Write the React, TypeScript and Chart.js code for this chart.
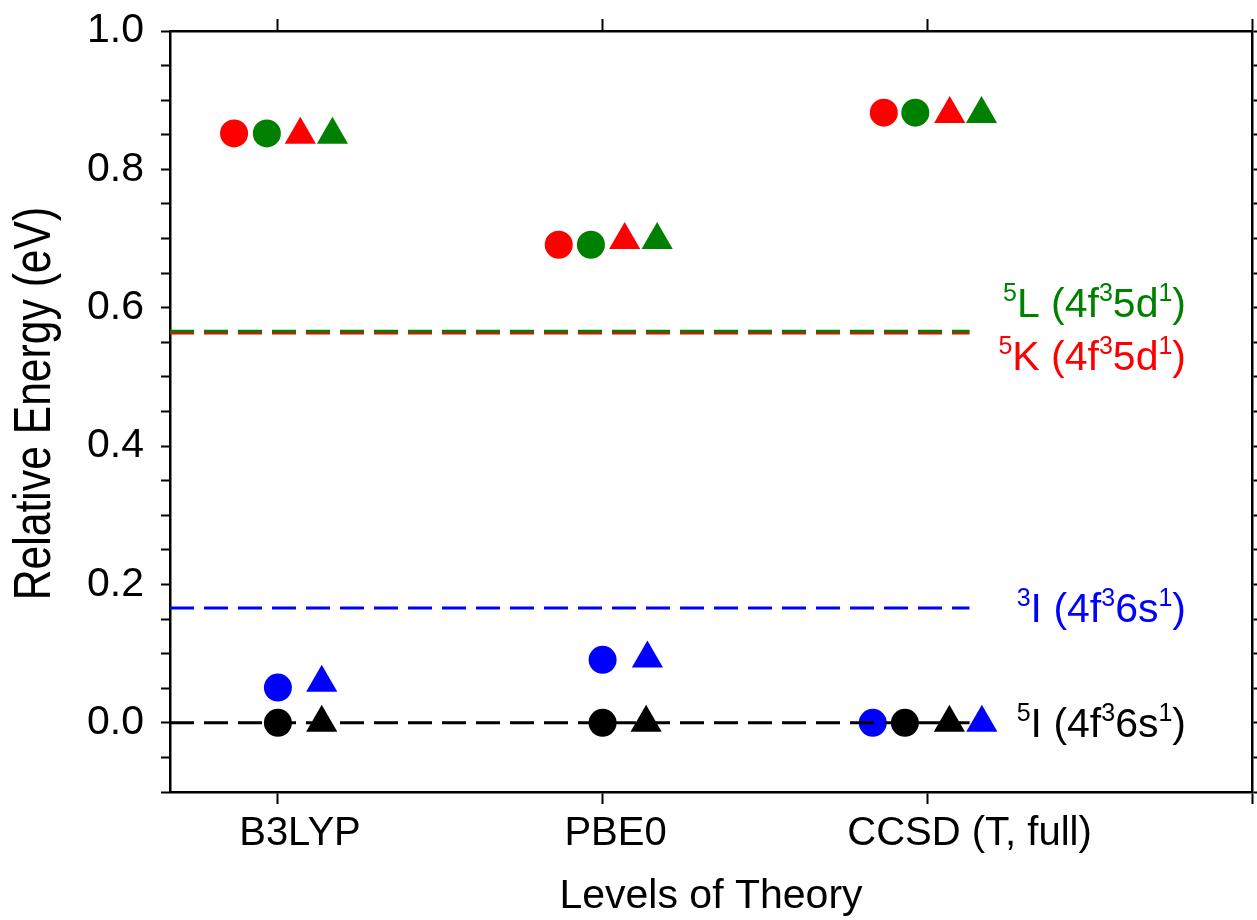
import { useEffect, useRef } from 'react';
import { Chart, registerables } from 'chart.js';

Chart.register(...registerables);

// ---- categories & axes ----
const categories = ['B3LYP', 'PBE0', 'CCSD (T, full)'];
const categoryPositions = [1, 2, 3];
const categoryLabelPositions = [1.068, 2.04, 3.13];
const xTicks = [1, 2, 3, 4];
const xMin = 0.6677;
const xMax = 4;
const yMin = -0.1;
const yMax = 1.0;
const yStep = 0.05;
const yLabelValues = [0, 0.2, 0.4, 0.6, 0.8, 1.0];
const yTickLabels = ['0.0', '0.2', '0.4', '0.6', '0.8', '1.0'];
const xTitle = 'Levels of Theory';
const yTitle = 'Relative Energy (eV)';

// ---- marker series (relative energy, eV) ----
const k5Circle = [0.852, 0.691, 0.882];
const l5Circle = [0.852, 0.691, 0.882];
const k5Triangle = [0.85, 0.698, 0.88];
const l5Triangle = [0.85, 0.698, 0.88];
const i3Circle = [0.051, 0.091, 0.0];
const i5Circle = [0.0, 0.0, 0.0];
const i5Triangle = [0.0, 0.0, 0.0];
const i3Triangle = [0.058, 0.093, 0.0];

// horizontal dodge of each series around its category (x units)
const k5CircleDodge = [-0.135, -0.135, -0.134];
const l5CircleDodge = [-0.034, -0.036, -0.037];
const k5TriangleDodge = [0.069, 0.068, 0.069];
const l5TriangleDodge = [0.168, 0.168, 0.167];
const i3CircleDodge = [0, 0, -0.168];
const i5CircleDodge = [0, 0, -0.069];
const i5TriangleDodge = [0.135, 0.134, 0.068];
const i3TriangleDodge = [0.135, 0.138, 0.168];

// ---- reference state levels (dashed lines) ----
const stateNames = ['5L', '5K', '3I', '5I'];
const stateEnergies = [0.566, 0.5635, 0.166, 0.0];
const stateLineEnd = 3.13;
const stateLabelParts: [string, boolean][][] = [
  [['5', true], ['L (4f', false], ['3', true], ['5d', false], ['1', true], [')', false]],
  [['5', true], ['K (4f', false], ['3', true], ['5d', false], ['1', true], [')', false]],
  [['3', true], ['I (4f', false], ['3', true], ['6s', false], ['1', true], [')', false]],
  [['5', true], ['I (4f', false], ['3', true], ['6s', false], ['1', true], [')', false]],
];

// ---- styles ----
const RED = '#ff0000';
const GREEN = '#008000';
const BLUE = '#0000ff';
const BLACK = '#000000';
const stateColors = [GREEN, RED, BLUE, BLACK];
const stateLabelDy = [-14, 37, 14, 14];
const FONT = "'Liberation Sans', Arial, sans-serif";

const markerSeries = [
  { name: '5K circle', values: k5Circle, dodge: k5CircleDodge, color: RED, style: 'circle', r: 14 },
  { name: '5L circle', values: l5Circle, dodge: l5CircleDodge, color: GREEN, style: 'circle', r: 14 },
  { name: '5K triangle', values: k5Triangle, dodge: k5TriangleDodge, color: RED, style: 'triangle', r: 18 },
  { name: '5L triangle', values: l5Triangle, dodge: l5TriangleDodge, color: GREEN, style: 'triangle', r: 18 },
  { name: '3I circle', values: i3Circle, dodge: i3CircleDodge, color: BLUE, style: 'circle', r: 14 },
  { name: '5I circle', values: i5Circle, dodge: i5CircleDodge, color: BLACK, style: 'circle', r: 14 },
  { name: '5I triangle', values: i5Triangle, dodge: i5TriangleDodge, color: BLACK, style: 'triangle', r: 18 },
  { name: '3I triangle', values: i3Triangle, dodge: i3TriangleDodge, color: BLUE, style: 'triangle', r: 18 },
];

const stateLabelPlugin = {
  id: 'stateLabels',
  afterDraw(chart: any) {
    const ctx = chart.ctx as CanvasRenderingContext2D;
    const ys = chart.scales.y;
    const area = chart.chartArea;
    const right = area.right - 66;
    const mainSize = 41;
    const supSize = 25;
    const supRaise = 16;
    ctx.save();
    ctx.textAlign = 'left';
    ctx.textBaseline = 'alphabetic';
    stateLabelParts.forEach((parts, i) => {
      const base = ys.getPixelForValue(stateEnergies[i]) + stateLabelDy[i];
      const widths = parts.map(([t, sup]) => {
        ctx.font = `${sup ? supSize : mainSize}px ${FONT}`;
        return ctx.measureText(t).width;
      });
      const total = widths.reduce((a, b) => a + b, 0);
      let x = right - total;
      ctx.fillStyle = stateColors[i];
      parts.forEach(([t, sup], j) => {
        ctx.font = `${sup ? supSize : mainSize}px ${FONT}`;
        ctx.fillText(t, x, sup ? base - supRaise : base);
        x += widths[j];
      });
    });
    // condensed vertical axis title
    ctx.translate(36, (area.top + area.bottom) / 2 - 8);
    ctx.rotate(-Math.PI / 2);
    ctx.scale(0.82, 1);
    ctx.font = `52px ${FONT}`;
    ctx.fillStyle = BLACK;
    ctx.textAlign = 'center';
    ctx.textBaseline = 'middle';
    ctx.fillText(yTitle, 0, 0);
    ctx.restore();
  },
};

const fixBox = (w: number | null, h: number | null) => (s: any) => {
  if (w !== null) s.width = w;
  if (h !== null) s.height = h;
  s.paddingLeft = 0;
  s.paddingRight = 0;
  s.paddingTop = 0;
  s.paddingBottom = 0;
};

export default function App() {
  const ref = useRef<HTMLCanvasElement | null>(null);

  useEffect(() => {
    if (!ref.current) return;

    const markerDatasets = markerSeries.map((s) => ({
      label: s.name,
      data: categoryPositions.map((c, i) => ({ x: c + s.dodge[i], y: s.values[i] })),
      pointStyle: s.style,
      pointRadius: s.r,
      pointHoverRadius: s.r,
      backgroundColor: s.color,
      borderColor: s.color,
      borderWidth: 0,
      showLine: false,
      order: 10,
      xAxisID: 'x',
      yAxisID: 'y',
    }));

    const lineDatasets = stateNames.map((n, i) => ({
      label: n,
      data: [
        { x: xMin, y: stateEnergies[i] },
        { x: stateLineEnd, y: stateEnergies[i] },
      ],
      showLine: true,
      borderColor: stateColors[i],
      backgroundColor: stateColors[i],
      borderWidth: 3,
      borderDash: [24, 10],
      pointRadius: 0,
      pointHoverRadius: 0,
      fill: false,
      order: i,
      xAxisID: 'x',
      yAxisID: 'y',
    }));

    const tickGrid = (len: number) => ({
      drawOnChartArea: false,
      drawTicks: true,
      tickLength: len,
      tickWidth: 2,
      tickColor: BLACK,
    });
    const frame = { display: true, color: BLACK, width: 2.5 };
    const yLabel = (v: number) => {
      const i = yLabelValues.findIndex((l) => Math.abs(l - v) < 1e-6);
      return i >= 0 ? yTickLabels[i] : '';
    };

    const chart = new Chart(ref.current, {
      type: 'scatter',
      data: { datasets: [...lineDatasets, ...markerDatasets] as any },
      options: {
        animation: false,
        responsive: false,
        layout: { padding: 0, autoPadding: false },
        plugins: { legend: { display: false }, tooltip: { enabled: false } },
        scales: {
          x: {
            type: 'linear',
            position: 'bottom',
            weight: 0,
            min: xMin,
            max: xMax,
            afterBuildTicks: (s: any) => {
              s.ticks = xTicks.map((v) => ({ value: v }));
            },
            afterFit: fixBox(null, 12),
            ticks: { display: false, autoSkip: false },
            grid: tickGrid(12),
            border: frame,
          },
          xl: {
            type: 'linear',
            position: 'bottom',
            weight: 1,
            min: xMin,
            max: xMax,
            afterBuildTicks: (s: any) => {
              s.ticks = categoryLabelPositions.map((v) => ({ value: v }));
            },
            afterFit: fixBox(null, 116),
            ticks: {
              autoSkip: false,
              maxRotation: 0,
              minRotation: 0,
              padding: 6,
              color: BLACK,
              font: { family: FONT, size: 40 },
              callback: (_v: any, i: number) => categories[i],
            },
            grid: { display: false, drawTicks: false },
            border: { display: false },
            title: {
              display: true,
              text: xTitle,
              color: BLACK,
              font: { family: FONT, size: 41 },
              padding: { top: 0, bottom: -1 },
            },
          },
          x2: {
            type: 'linear',
            position: 'top',
            min: xMin,
            max: xMax,
            afterBuildTicks: (s: any) => {
              s.ticks = xTicks.map((v) => ({ value: v }));
            },
            afterFit: fixBox(null, 31),
            ticks: { display: false, autoSkip: false },
            grid: tickGrid(12),
            border: frame,
          },
          y: {
            type: 'linear',
            position: 'left',
            min: yMin,
            max: yMax,
            afterFit: fixBox(170, null),
            ticks: {
              stepSize: yStep,
              autoSkip: false,
              padding: 17,
              color: BLACK,
              font: { family: FONT, size: 41 },
              callback: (v: any) => yLabel(Number(v)),
            },
            grid: tickGrid(9),
            border: frame,
          },
          y2: {
            type: 'linear',
            position: 'right',
            min: yMin,
            max: yMax,
            afterFit: fixBox(5, null),
            ticks: { stepSize: yStep, display: false, autoSkip: false },
            grid: tickGrid(9),
            border: frame,
          },
        },
      } as any,
      plugins: [stateLabelPlugin],
    });

    return () => chart.destroy();
  }, []);

  return (
    <div style={{ position: 'absolute', left: 0, top: 0, width: 1257, height: 920, background: '#fff' }}>
      <canvas ref={ref} width={1257} height={920} style={{ display: 'block', width: 1257, height: 920 }} />
    </div>
  );
}
